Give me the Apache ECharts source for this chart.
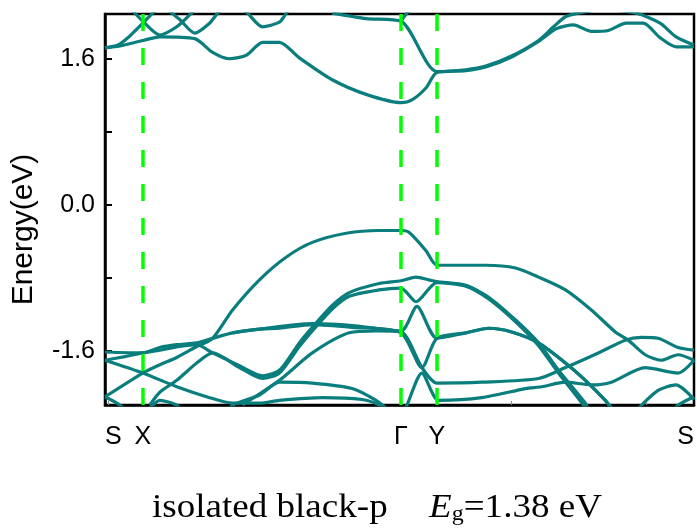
<!DOCTYPE html>
<html><head><meta charset="utf-8">
<script src="https://cdn.jsdelivr.net/npm/echarts@6/dist/echarts.min.js"></script>
<style>html,body{margin:0;padding:0;background:#fff}#c{width:697px;height:528px}</style>
</head><body><div id="c"></div>
<script>
// k-path positions and labels
var kTicks = [0, 38, 297, 333, 591];
var kLabels = ['S', 'X', '\u0393', 'Y', 'S'];
var kLines = [38, 297, 333];
var kMinorTicks = [3, 138, 273, 408, 543];
var yTicks = [-1.6, -0.8, 0, 0.8, 1.6];
var yLabelVals = [-1.6, 0, 1.6];

// conduction bands [k, E]
var c1 = [[0,1.72],[15,1.74],[38,1.80],[55,1.84],[90,1.82],[108,1.67],[125,1.60],[142,1.64],[158,1.78],[175,1.78],[195,1.61],[228,1.37],[262,1.21],[297,1.12],[308,1.15],[322,1.28],[333,1.45],[362,1.47],[382,1.51],[408,1.62],[435,1.79],[453,1.93],[470,1.97],[488,1.90],[505,1.91],[523,1.99],[540,1.99],[557,1.83],[573,1.73],[591,1.73]];
var c2 = [[228,2.10],[262,2.04],[297,2.01],[333,1.46],[362,1.48],[382,1.52],[408,1.63],[435,1.80],[450,1.95],[462,2.06],[475,2.10],[500,2.14],[533,2.10],[557,1.99],[573,1.84],[591,1.75]];
var c3 = [[0,1.72],[13,1.75],[25,1.85],[38,1.99],[47,2.09],[55,2.18]];
var c4 = [[25,2.15],[30,2.10],[38,2.01],[55,1.86],[72,1.95],[85,2.08],[92,2.15]];
var c5 = [[62,2.15],[67,2.10],[75,2.03],[90,1.88],[105,1.99],[113,2.10],[118,2.15]];
var c6 = [[138,2.15],[143,2.10],[158,1.95],[175,2.00],[182,2.10],[186,2.15]];
var c7 = [[297,2.01],[303,2.10],[308,2.16]];

// valence bands [k, E]
var v1 = [[0,-2.10],[38,-1.84],[55,-1.75],[72,-1.67],[92,-1.55],[108,-1.46],[128,-1.15],[155,-0.82],[182,-0.57],[208,-0.41],[242,-0.31],[275,-0.28],[297,-0.28],[305,-0.30],[322,-0.50],[333,-0.66],[362,-0.66],[382,-0.66],[412,-0.69],[435,-0.79],[462,-0.93],[488,-1.15],[512,-1.39],[525,-1.48],[542,-1.64],[558,-1.70],[575,-1.64],[591,-1.70]];
var v2 = [[0,-1.70],[38,-1.84],[72,-1.99],[105,-2.11],[128,-2.17],[155,-2.17],[175,-2.14],[218,-2.11],[258,-2.13],[275,-2.19],[280,-2.25]];
var v3 = [[0,-1.61],[38,-1.62],[55,-1.56],[72,-1.53],[92,-1.51],[108,-1.46],[128,-1.40],[155,-1.36],[208,-1.30],[248,-1.32],[297,-1.38],[313,-1.11],[333,-1.46],[362,-1.40],[385,-1.35],[408,-1.39],[435,-1.51],[462,-1.73],[482,-1.92],[502,-2.14],[510,-2.25]];
var v4 = [[0,-1.70],[20,-1.66],[38,-1.62],[55,-1.59],[75,-1.55],[92,-1.53],[108,-1.62],[135,-1.76],[158,-1.87],[175,-1.81],[195,-1.51],[208,-1.34],[228,-1.10],[245,-0.96],[275,-0.86],[297,-0.83],[312,-0.79],[325,-0.82],[333,-0.84],[362,-0.88],[385,-1.01],[412,-1.26],[435,-1.51],[455,-1.81],[482,-2.17],[485,-2.25]];
var v5 = [[45,-2.19],[55,-2.05],[72,-1.92],[92,-1.73],[108,-1.62],[135,-1.78],[158,-1.90],[175,-1.84],[195,-1.55],[208,-1.38],[228,-1.14],[245,-1.00],[275,-0.93],[297,-0.91],[312,-1.06],[333,-0.85],[362,-0.89],[385,-1.03],[412,-1.28],[435,-1.54],[455,-1.84],[480,-2.19],[483,-2.25]];
var v6 = [[138,-2.19],[175,-1.92],[208,-1.62],[245,-1.40],[272,-1.38],[297,-1.39],[318,-1.78],[333,-1.95],[378,-1.94],[435,-1.90],[462,-1.78],[495,-1.62],[522,-1.48],[538,-1.45],[555,-1.46],[575,-1.56],[591,-1.59]];
var v7 = [[128,-1.40],[155,-1.36],[175,-1.35],[208,-1.31],[248,-1.34],[297,-1.40],[318,-1.78],[333,-1.46],[362,-1.40],[385,-1.35],[408,-1.39],[435,-1.51],[462,-1.73],[482,-1.92],[502,-2.14],[510,-2.25]];
var v8 = [[125,-2.25],[128,-2.19],[155,-2.08],[175,-1.94],[208,-1.95],[248,-2.01],[272,-2.14],[285,-2.25]];
var v9 = [[300,-2.25],[303,-2.19],[318,-1.84],[335,-2.14],[378,-2.11],[422,-2.01],[438,-1.99],[462,-1.94],[488,-1.97],[508,-1.94],[542,-1.78],[575,-1.84],[591,-1.70]];
var v10 = [[533,-2.25],[555,-2.03],[573,-1.97],[591,-2.13]];
var v11 = [[570,-2.25],[575,-2.19],[591,-2.10]];
var v12 = [[0,-2.10],[15,-2.19],[20,-2.25]];
var v13 = [[42,-2.25],[48,-2.19],[55,-2.14],[72,-2.19],[76,-2.25]];

var bands = [c1,c2,c3,c4,c5,c6,c7,v1,v2,v3,v4,v5,v6,v7,v8,v9,v10,v11,v12,v13];
var bandColor = '#0a7d7d';

var series = [{
  type: 'line', data: [], z: 1,
  markLine: {
    silent: true, symbol: ['none','none'], label: {show:false},
    lineStyle: {color:'#00ff00', type:[17,17], width:3.5},
    data: kLines.map(function(k){return {xAxis:k};})
  }
}];
bands.forEach(function(b){
  series.push({type:'line', data:b, symbol:'none', smooth:0.25, z:3,
    lineStyle:{color:bandColor, width:3.2}, clip:true});
});

var chart = echarts.init(document.getElementById('c'));
chart.setOption({
  animation:false,
  grid:{left:105, right:1, top:14, bottom:123, show:true, borderColor:'#000', borderWidth:2.5},
  xAxis:{type:'value', min:0, max:591,
    axisLine:{show:true, onZero:false, lineStyle:{color:'#000', width:2.5}},
    splitLine:{show:false},
    axisTick:{show:true, inside:true, length:4, customValues:kMinorTicks, lineStyle:{color:'#888', width:1}},
    axisLabel:{customValues:kTicks, margin:20, color:'#000', fontFamily:'Liberation Sans, Arial', fontSize:25,
      formatter:function(v){var i=kTicks.indexOf(v);return i>=0?kLabels[i]:'';},
      alignMinLabel:'left', alignMaxLabel:'right'}
  },
  yAxis:{type:'value', min:-2.19, max:2.09,
    name:'Energy(eV)', nameLocation:'middle', nameGap:66,
    nameTextStyle:{color:'#000', fontFamily:'Liberation Sans, Arial', fontSize:30, padding:[0,40,0,0]},
    axisLine:{show:true, onZero:false, lineStyle:{color:'#000', width:2.5}},
    splitLine:{show:false},
    axisTick:{show:true, inside:true, length:7, customValues:yTicks, lineStyle:{color:'#000', width:2}},
    axisLabel:{customValues:yLabelVals, margin:10, color:'#000', fontFamily:'Liberation Sans, Arial', fontSize:25,
      formatter:function(v){return v.toFixed(1);}}
  },
  graphic:[{
    type:'text', left:152, top:488, scaleX:1.09,
    style:{
      text:'{n|isolated black-p}{gap| }{i|E}{s|g}{n|=1.38 eV}',
      rich:{
        n:{fontFamily:'Liberation Serif, Times New Roman', fontSize:34, lineHeight:40, verticalAlign:'bottom', fill:'#000'},
        gap:{width:38, fontSize:34, lineHeight:40},
        i:{fontFamily:'Liberation Serif, Times New Roman', fontStyle:'italic', fontSize:34, lineHeight:40, verticalAlign:'bottom', fill:'#000'},
        s:{fontFamily:'Liberation Serif, Times New Roman', fontSize:22, lineHeight:22, verticalAlign:'bottom', fill:'#000'}
      }
    }
  }],
  series:series
});
</script></body></html>
